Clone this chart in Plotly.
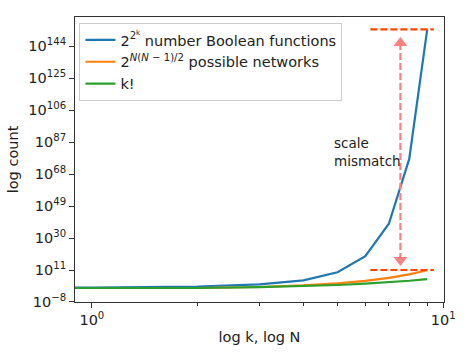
import plotly.graph_objects as go

# k (oder N) = 0..9; bei k=0 klemmt die log-Achse wie matplotlib nach ganz links
k = [0, 1, 2, 3, 4, 5, 6, 7, 8, 9]
boolean_funcs = [2, 4, 16, 256, 65536, 4.29e9, 1.84e19, 3.40e38, 1.16e77, 1.34e154]
networks = [1, 1, 2, 8, 64, 1024, 32768, 2.10e6, 2.68e8, 6.87e10]
k_fakultaet = [1, 1, 2, 6, 24, 120, 720, 5040, 40320, 362880]

# Markierung "scale mismatch"
mismatch_x = [6.2, 9.4]
mismatch_oben = 1.34e154
mismatch_unten = 1.0e11
pfeil_x = 7.55
pfeil_y = [1e146, 1e17]

ytick_exp = [-8, 11, 30, 49, 68, 87, 106, 125, 144]

x_plot = [kk if kk > 0 else 1e-300 for kk in k]

fs = 14.5

fig = go.Figure()
fig.add_trace(go.Scatter(x=x_plot, y=boolean_funcs, mode='lines',
                         line=dict(color='#1f77b4', width=2.2),
                         name='2<sup>2<sup>k</sup></sup> number Boolean functions'))
fig.add_trace(go.Scatter(x=x_plot, y=networks, mode='lines',
                         line=dict(color='#ff7f0e', width=2.2),
                         name='2<sup><i>N</i>(<i>N</i> − 1)/2</sup> possible networks'))
fig.add_trace(go.Scatter(x=x_plot, y=k_fakultaet, mode='lines',
                         line=dict(color='#2ca02c', width=2.2),
                         name='k!'))

# rote gestrichelte Linien
for yy in [mismatch_oben, mismatch_unten]:
    fig.add_trace(go.Scatter(x=mismatch_x, y=[yy, yy], mode='lines', showlegend=False,
                             line=dict(color='#ff4500', width=2.2, dash='7px,3px'),
                             hoverinfo='skip'))

# Doppelpfeil
fig.add_trace(go.Scatter(x=[pfeil_x, pfeil_x], y=pfeil_y, mode='lines+markers', showlegend=False,
                         line=dict(color='#ff8080', width=2.2, dash='7px,3px'),
                         marker=dict(symbol=['triangle-up', 'triangle-down'], size=12,
                                     color='#ff8080'),
                         hoverinfo='skip'))

fig.add_annotation(x=0.682, y=81, xref='x', yref='y', text='scale<br>mismatch',
                   showarrow=False, xanchor='left', align='left',
                   font=dict(size=13.5, color='#222'))

fig.update_xaxes(type='log', range=[-0.048, 1.002],
                 tickvals=[1, 10], ticktext=['10<sup>0</sup>', '10<sup>1</sup>'],
                 tickfont=dict(size=fs),
                 ticks='outside', ticklen=5, tickcolor='#333',
                 minor=dict(tickvals=[2, 3, 4, 5, 6, 7, 8, 9], ticks='outside', ticklen=3,
                            tickcolor='#333'),
                 showline=True, linecolor='#333', linewidth=1, mirror=True,
                 showgrid=False, zeroline=False,
                 title=dict(text='log k, log N', standoff=4, font=dict(size=fs)))
fig.update_yaxes(type='log', range=[-8.03, 161.5],
                 tickvals=[10.0 ** e for e in ytick_exp],
                 ticktext=['10<sup>%s</sup>' % str(e).replace('-', '−') for e in ytick_exp],
                 tickfont=dict(size=fs),
                 ticks='outside', ticklen=5, tickcolor='#333',
                 showline=True, linecolor='#333', linewidth=1, mirror=True,
                 showgrid=False, zeroline=False,
                 title=dict(text='log count', standoff=6, font=dict(size=fs)))

fig.update_layout(width=468, height=355,
                  margin=dict(l=72, r=17, t=17, b=50),
                  paper_bgcolor='white', plot_bgcolor='white',
                  font=dict(family='DejaVu Sans', size=fs, color='#222'),
                  legend=dict(x=0.012, y=0.979, xanchor='left', yanchor='top',
                              bgcolor='rgba(255,255,255,0.8)', bordercolor='#ccc',
                              borderwidth=1, font=dict(size=fs), tracegroupgap=0))

# Body-Rand entfernen, sonst wird die Grafik um 8px verschoben
fig.write_html("out.html", config={'displayModeBar': False},
               post_script="document.body.style.margin='0';")
